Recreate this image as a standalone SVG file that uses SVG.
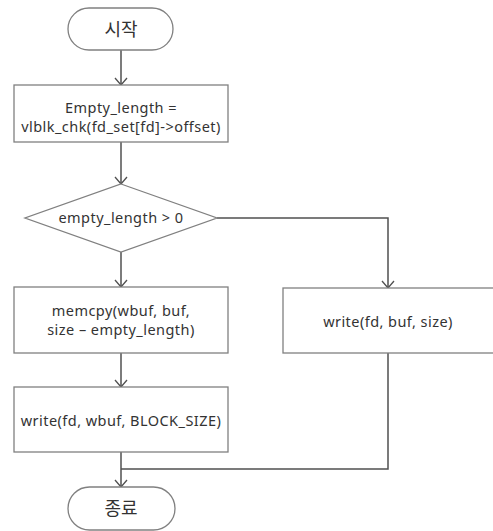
<svg xmlns="http://www.w3.org/2000/svg" width="493" height="531" viewBox="0 0 493 531">
<style>
.shape{fill:#fff;stroke:#808080;stroke-width:1.3}
.conn{fill:none;stroke:#505050;stroke-width:1.5}
.t{font-family:"Noto Sans","Open Sans","Liberation Sans",sans-serif;font-size:14.5px;letter-spacing:0.45px;fill:#333;text-anchor:middle}
.k{font-family:"Noto Sans CJK KR",sans-serif;font-size:18px;fill:#333;text-anchor:middle}
</style>
<defs>
<marker id="arr" markerWidth="10" markerHeight="14" refX="8" refY="7" orient="auto" markerUnits="userSpaceOnUse" viewBox="0 0 10 14">
<polyline points="1,1 8,7 1,13" fill="none" stroke="#505050" stroke-width="1.3"/>
</marker>
</defs>
<rect width="493" height="531" fill="#fff"/>
<g id="connectors">
<line class="conn" x1="121" y1="50" x2="121" y2="85" marker-end="url(#arr)"/>
<line class="conn" x1="121" y1="142" x2="121" y2="184" marker-end="url(#arr)"/>
<line class="conn" x1="121" y1="252" x2="121" y2="287" marker-end="url(#arr)"/>
<polyline class="conn" points="217,218 388,218 388,288" marker-end="url(#arr)"/>
<line class="conn" x1="121" y1="353" x2="121" y2="387" marker-end="url(#arr)"/>
<line class="conn" x1="121" y1="452" x2="121" y2="487" marker-end="url(#arr)"/>
<polyline class="conn" points="388,353 388,469 121,469"/>
</g>
<g id="start">
<rect class="shape" x="68" y="8" width="105" height="42" rx="21"/>
<text class="k" x="121" y="36">시작</text>
</g>
<g id="calc">
<rect class="shape" x="14" y="85" width="214" height="57"/>
<text class="t" x="121" y="113">Empty_length =</text>
<text class="t" x="121" y="132">vlblk_chk(fd_set[fd]-&gt;offset)</text>
</g>
<g id="decision">
<polygon class="shape" points="121,184 217,218 121,252 25,218"/>
<text class="t" x="121" y="223">empty_length &gt; 0</text>
</g>
<g id="memcpy">
<rect class="shape" x="14" y="287" width="214" height="66"/>
<text class="t" x="121" y="316">memcpy(wbuf, buf,</text>
<text class="t" x="121" y="335">size – empty_length)</text>
</g>
<g id="write_size">
<rect class="shape" x="283" y="288" width="220" height="65"/>
<text class="t" x="388" y="327">write(fd, buf, size)</text>
</g>
<g id="write_block">
<rect class="shape" x="14" y="387" width="214" height="65"/>
<text class="t" x="121" y="426">write(fd, wbuf, BLOCK_SIZE)</text>
</g>
<g id="end">
<rect class="shape" x="68" y="487" width="107" height="43" rx="21.5"/>
<text class="k" x="121" y="515">종료</text>
</g>
</svg>
